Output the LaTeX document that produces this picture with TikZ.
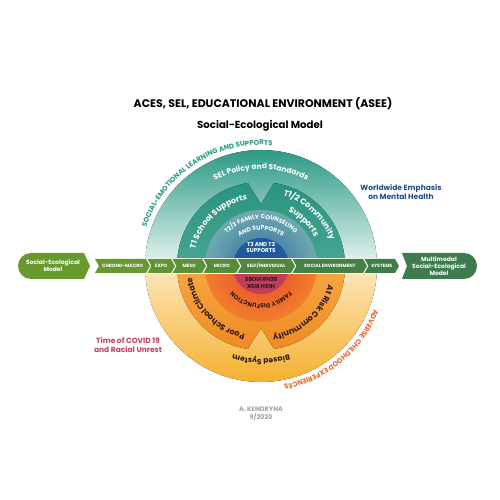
\documentclass[tikz,border=0pt]{standalone}
\usepackage{fontspec}
\setmainfont{Poppins}
\usetikzlibrary{calc, decorations.text}

\definecolor{selTeal}{HTML}{2C9A85}
\definecolor{selPale}{HTML}{EAF6F2}
\definecolor{secTeal}{HTML}{2A937F}
\definecolor{secTealLo}{HTML}{47A692}
\definecolor{famBlue}{HTML}{2B66A0}
\definecolor{famPale}{HTML}{6FAAB0}
\definecolor{coreBlue}{HTML}{1E5A9C}
\definecolor{aceYel}{HTML}{F5B02F}
\definecolor{acePale}{HTML}{FDE8BF}
\definecolor{secOr}{HTML}{EF8A22}
\definecolor{secOrHi}{HTML}{F7A844}
\definecolor{famRed}{HTML}{E2432B}
\definecolor{famOr}{HTML}{F27E2C}
\definecolor{coreRed}{HTML}{C03D5C}
\definecolor{aceText}{HTML}{E6682E}
\definecolor{bandL}{HTML}{67992F}
\definecolor{bandR}{HTML}{3F7D47}
\definecolor{endR}{HTML}{3E7B4D}
\definecolor{navy}{HTML}{1E4F86}
\definecolor{covid}{HTML}{C2405C}
\definecolor{signGrey}{HTML}{A3A3A3}
\definecolor{darkTxt}{HTML}{2B1A12}

\colorlet{sgA}{bandL}
\colorlet{sgB}{bandL!85!bandR}
\colorlet{sgC}{bandL!72!bandR}
\colorlet{sgD}{bandL!58!bandR}
\colorlet{sgE}{bandL!40!bandR}
\colorlet{sgF}{bandL!15!bandR}
\colorlet{sgG}{bandR}

\begin{document}
\begin{tikzpicture}[x=1pt, y=1pt,
  seglbl/.style={text=white, font=\bfseries\fontsize{4.6}{5}\selectfont, inner sep=0pt},
  endlbl/.style={text=white, font=\bfseries\fontsize{6}{7.2}\selectfont, align=center, inner sep=0pt},
  sidenote/.style={font=\bfseries\fontsize{7.5}{9}\selectfont, align=center, inner sep=0pt},
  corelbl/.style={font=\bfseries\fontsize{5.6}{6.6}\selectfont, align=center, inner sep=0pt},
  arctxt/.style={decorate, decoration={text along path, text align=center, text={#1}}}]

\useasboundingbox (0,0) rectangle (500,500);
\fill[white] (0,0) rectangle (500,500);
\coordinate (C) at (261,234);

% heading
\node[font=\bfseries\fontsize{11}{13}\selectfont] (title) at (263,396.5) {ACES, SEL, EDUCATIONAL ENVIRONMENT (ASEE)};
\node[font=\bfseries\fontsize{10.2}{12}\selectfont] (subtitle) at (260,374) {Social-Ecological Model};

% upper half: social-emotional learning
\fill[top color=selTeal, bottom color=selPale] ($(C)+(0:116pt)$) arc[start angle=0, end angle=180, radius=116pt] -- cycle;
\fill[top color=secTeal, bottom color=secTealLo] (C) -- ++(180:84pt) arc[start angle=180, end angle=99, radius=84pt] -- ($(C)+(90:62pt)$) -- cycle;
\fill[top color=secTeal, bottom color=secTealLo] (C) -- ++(0:84pt) arc[start angle=0, end angle=81, radius=84pt] -- ($(C)+(90:62pt)$) -- cycle;
\begin{scope}
  \clip (C) ++(-120pt,0) rectangle ++(240pt,120pt);
  \shade[inner color=famBlue, outer color=famPale] (C) circle[radius=56pt];
  \fill[coreBlue] (C) circle[radius=28pt];
\end{scope}

% lower half: adverse childhood experiences
\fill[top color=acePale, bottom color=aceYel] ($(C)+(180:116pt)$) arc[start angle=180, end angle=360, radius=116pt] -- cycle;
\fill[top color=secOrHi, bottom color=secOr] (C) -- ++(180:84pt) arc[start angle=180, end angle=261, radius=84pt] -- ($(C)+(270:62pt)$) -- cycle;
\fill[top color=secOrHi, bottom color=secOr] (C) -- ++(0:84pt) arc[start angle=0, end angle=-81, radius=84pt] -- ($(C)+(270:62pt)$) -- cycle;
\begin{scope}
  \clip (C) ++(-120pt,0) rectangle ++(240pt,-120pt);
  \shade[inner color=famRed, outer color=famOr] (C) circle[radius=56pt];
  \fill[coreRed] (C) circle[radius=28pt];
\end{scope}

% texts on the rings
\path[arctxt={|\bfseries\fontsize{7}{8}\selectfont\color{selTeal}|SOCIAL-EMOTIONAL LEARNING AND SUPPORTS}] ($(C)+(172:121pt)$) arc[start angle=172, end angle=74, radius=121pt];
\path[arctxt={|\bfseries\fontsize{7.5}{8}\selectfont\color{white}|SEL Policy and Standards}] ($(C)+(125:97pt)$) arc[start angle=125, end angle=55, radius=97pt];
\path[arctxt={|\bfseries\fontsize{8}{9}\selectfont\color{white}|T1 School Supports}] ($(C)+(172:68pt)$) arc[start angle=172, end angle=95, radius=68pt];
\path[arctxt={|\bfseries\fontsize{8}{9}\selectfont\color{white}|T1/2 Community}] ($(C)+(80:74pt)$) arc[start angle=80, end angle=13, radius=74pt];
\path[arctxt={|\bfseries\fontsize{8}{9}\selectfont\color{white}|Supports}] ($(C)+(75:61pt)$) arc[start angle=75, end angle=17, radius=61pt];
\path[arctxt={|\bfseries\fontsize{6}{7}\selectfont\color{white}|T2/3 FAMILY COUNSELING}] ($(C)+(150:47pt)$) arc[start angle=150, end angle=30, radius=47pt];
\path[arctxt={|\bfseries\fontsize{6}{7}\selectfont\color{white}|AND SUPPORTS}] ($(C)+(145:36pt)$) arc[start angle=145, end angle=35, radius=36pt];
\node[corelbl, text=white] (core) at (261,252.5) {T3 AND T2\\SUPPORTS};

\path[arctxt={|\bfseries\fontsize{7}{8}\selectfont\color{aceText}|ADVERSE CHILDHOOD EXPERIENCES}] ($(C)+(-6:121pt)$) arc[start angle=-6, end angle=-94, radius=121pt];
\path[arctxt={|\bfseries\fontsize{7.5}{8}\selectfont\color{darkTxt}|Biased System}] ($(C)+(-50:93pt)$) arc[start angle=-50, end angle=-130, radius=93pt];
\path[arctxt={|\bfseries\fontsize{8}{9}\selectfont\color{darkTxt}|Poor School Climate}] ($(C)+(-98:70pt)$) arc[start angle=-98, end angle=-176, radius=70pt];
\path[arctxt={|\bfseries\fontsize{8}{9}\selectfont\color{darkTxt}|At Risk Community}] ($(C)+(-8:70pt)$) arc[start angle=-8, end angle=-88, radius=70pt];
\path[arctxt={|\bfseries\fontsize{6}{7}\selectfont\color{darkTxt}|FAMILY DISFUNCTION}] ($(C)+(-22:38pt)$) arc[start angle=-22, end angle=-158, radius=38pt];
\node[corelbl, text=darkTxt, rotate=180] (risk) at (261,217) {HIGH RISK\\BEHAVIORS};

% social-ecological band
\fill[white] (93,226) rectangle (401,242);
\fill[bandL] (31,247) -- (84,247) -- (90,234) -- (84,221) -- (31,221) arc[start angle=270, end angle=90, radius=13pt] -- cycle;
\node[endlbl] (semodel) at (53,234) {Social-Ecological\\Model};

\fill[sgA] (95,241) -- (146,241) -- (150,234) -- (146,227) -- (95,227) -- (99,234) -- cycle;
\node[seglbl] (chrono) at (122.5,234) {CHRONO-MACRO};
\fill[sgB] (147.5,241) -- (171,241) -- (175,234) -- (171,227) -- (147.5,227) -- (151.5,234) -- cycle;
\node[seglbl] (expo) at (161.2,234) {EXPO};
\fill[sgC] (172.5,241) -- (202,241) -- (206,234) -- (202,227) -- (172.5,227) -- (176.5,234) -- cycle;
\node[seglbl] (meso) at (189.2,234) {MESO};
\fill[sgD] (203.5,241) -- (236,241) -- (240,234) -- (236,227) -- (203.5,227) -- (207.5,234) -- cycle;
\node[seglbl] (micro) at (221.8,234) {MICRO};
\fill[sgE] (237.5,241) -- (291,241) -- (295,234) -- (291,227) -- (237.5,227) -- (241.5,234) -- cycle;
\node[seglbl] (self) at (266.2,234) {SELF/INDIVIDUAL};
\fill[sgF] (292.5,241) -- (363,241) -- (367,234) -- (363,227) -- (292.5,227) -- (296.5,234) -- cycle;
\node[seglbl] (socenv) at (329.8,234) {SOCIAL ENVIRONMENT};
\fill[sgG] (364.5,241) -- (395,241) -- (399,234) -- (395,227) -- (364.5,227) -- (368.5,234) -- cycle;
\node[seglbl] (systems) at (381.8,234) {SYSTEMS};

\fill[endR] (402,247) -- (464,247) arc[start angle=90, end angle=-90, radius=13pt] -- (402,221) -- (407,234) -- cycle;
\node[endlbl] (multimodal) at (439,234) {Multimodal\\Social-Ecological\\Model};

% side notes
\node[sidenote, text=navy] (worldwide) at (401,308) {Worldwide Emphasis\\on Mental Health};
\node[sidenote, text=covid] (covidnote) at (128,155) {Time of COVID 19\\and Racial Unrest};
\node[font=\bfseries\fontsize{6.5}{8}\selectfont, align=center, text=signGrey] (author) at (261,86) {A. KENDRYNA\\9/2020};
\end{tikzpicture}
\end{document}
